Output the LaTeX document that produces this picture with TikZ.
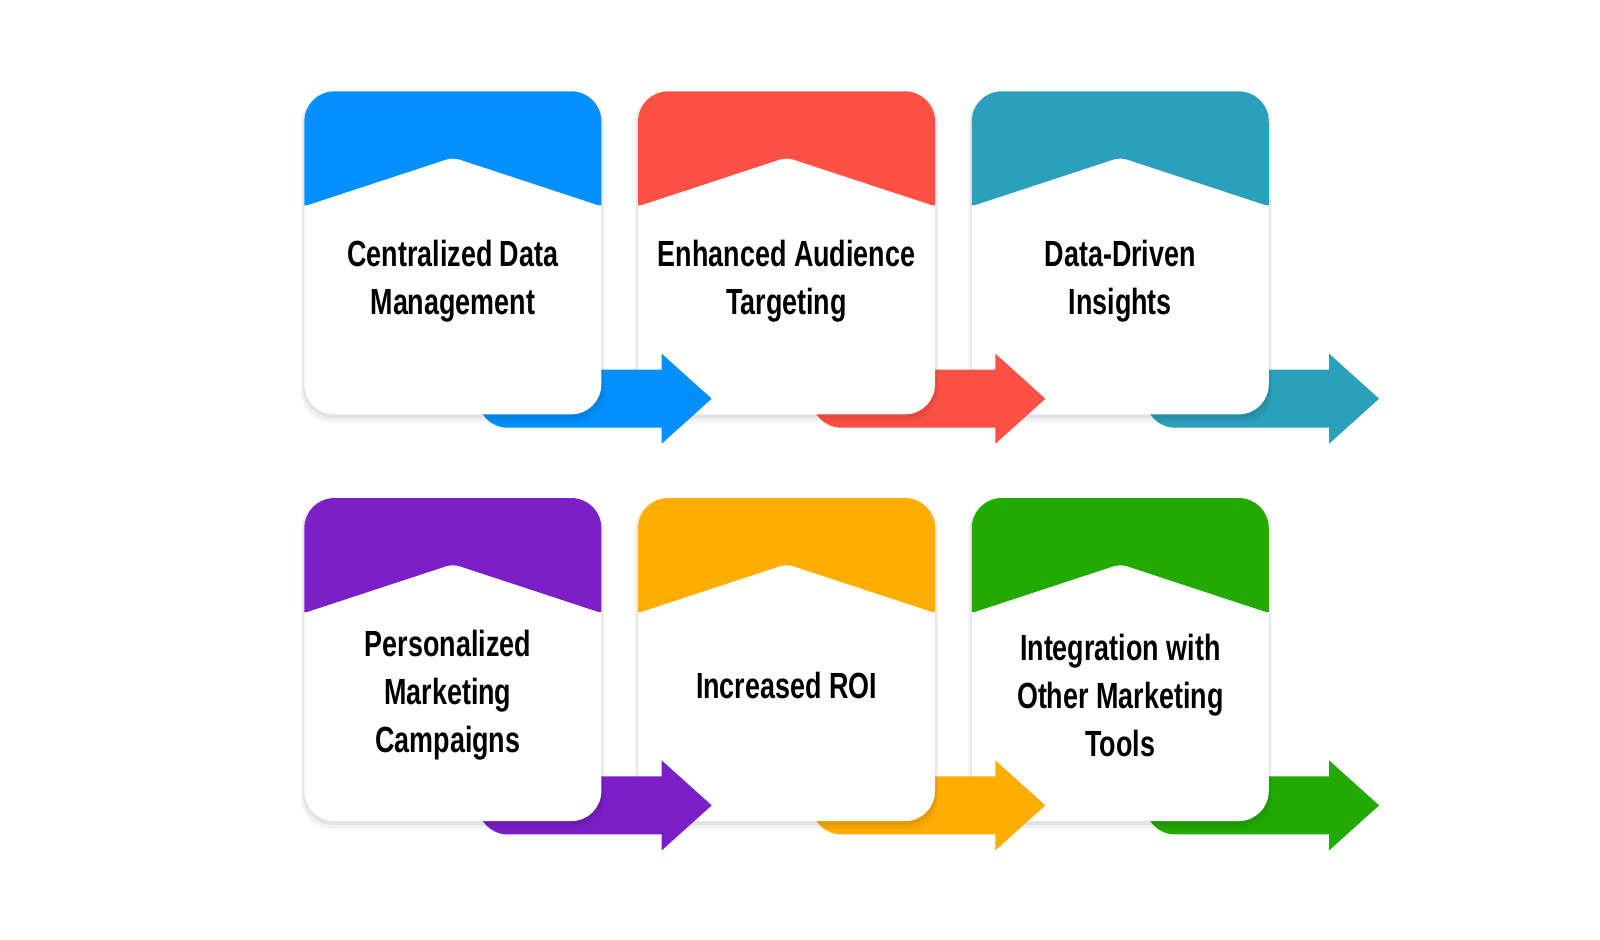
\documentclass[tikz,border=0pt]{standalone}
\usepackage{fontspec}
\usepackage{tikz}
\usetikzlibrary{positioning, shadows}
\newfontfamily\cardfont[FakeStretch=0.74]{Liberation Sans}
\definecolor{CardBlue}{RGB}{3, 144, 252}
\definecolor{CardRed}{RGB}{255, 80, 70}
\definecolor{CardTeal}{RGB}{42, 160, 188}
\definecolor{CardPurple}{RGB}{124, 31, 200}
\definecolor{CardOrange}{RGB}{255, 174, 0}
\definecolor{CardGreen}{RGB}{35, 170, 0}

\begin{document}
\begin{tikzpicture}[
    node distance=1.66cm and 0.72cm,
    slot/.style={rectangle, inner sep=0pt, minimum width=5.94cm, minimum height=6.46cm},
    card/.style={rectangle, fill=white, rounded corners=0.6cm, inner sep=0pt, minimum width=5.94cm, minimum height=6.46cm,
      drop shadow={shadow xshift=0pt, shadow yshift=-0.1cm, shadow scale=1.025, opacity=0.025, fill=black},
      drop shadow={shadow xshift=0pt, shadow yshift=-0.08cm, shadow scale=1.017, opacity=0.035, fill=black},
      drop shadow={shadow xshift=0pt, shadow yshift=-0.05cm, shadow scale=1.008, opacity=0.05, fill=black},
      path picture={\fill[#1, rounded corners=4pt]
        ([xshift=-2pt, yshift=2pt]path picture bounding box.north west)
        -- ([xshift=-2pt, yshift=-2.32cm]path picture bounding box.north west)
        -- ([yshift=-1.32cm]path picture bounding box.north)
        -- ([xshift=2pt, yshift=-2.32cm]path picture bounding box.north east)
        -- ([xshift=2pt, yshift=2pt]path picture bounding box.north east) -- cycle;}},
    cardtext/.style={font=\cardfont\bfseries\fontsize{20.7pt}{27.3pt}\selectfont, align=center, text=black}
  ]
    \path[use as bounding box, fill=white] (0,0) rectangle (32,-18.8);

    % Slots: where the six cards sit
    \node[slot, anchor=north west] (slot1) at (6.08,-1.82) {};
    \node[slot, right=of slot1] (slot2) {};
    \node[slot, right=of slot2] (slot3) {};
    \node[slot, below=of slot1] (slot4) {};
    \node[slot, right=of slot4] (slot5) {};
    \node[slot, right=of slot5] (slot6) {};

    % Row 1, right to left: each arrow lies over the next card and under its own
    \fill[CardTeal, shift={(slot3.south east)}] (-2.48,0.9) -- (1.2,0.9) -- (1.2,1.22) -- (2.2,0.32) -- (1.2,-0.58) -- (1.2,-0.26) -- (-1.88,-0.26) arc[start angle=270, end angle=180, radius=0.6] -- cycle;
    \node[card=CardTeal] (card3) at (slot3) {};
    \node[cardtext] (text3) at ([yshift=-3.8cm]card3.north) {Data-Driven\\Insights};

    \fill[CardRed, shift={(slot2.south east)}] (-2.48,0.9) -- (1.2,0.9) -- (1.2,1.22) -- (2.2,0.32) -- (1.2,-0.58) -- (1.2,-0.26) -- (-1.88,-0.26) arc[start angle=270, end angle=180, radius=0.6] -- cycle;
    \node[card=CardRed] (card2) at (slot2) {};
    \node[cardtext] (text2) at ([yshift=-3.8cm]card2.north) {Enhanced Audience\\Targeting};

    \fill[CardBlue, shift={(slot1.south east)}] (-2.48,0.9) -- (1.2,0.9) -- (1.2,1.22) -- (2.2,0.32) -- (1.2,-0.58) -- (1.2,-0.26) -- (-1.88,-0.26) arc[start angle=270, end angle=180, radius=0.6] -- cycle;
    \node[card=CardBlue] (card1) at (slot1) {};
    \node[cardtext] (text1) at ([yshift=-3.8cm]card1.north) {Centralized Data\\Management};

    % Row 2
    \fill[CardGreen, shift={(slot6.south east)}] (-2.48,0.9) -- (1.2,0.9) -- (1.2,1.22) -- (2.2,0.32) -- (1.2,-0.58) -- (1.2,-0.26) -- (-1.88,-0.26) arc[start angle=270, end angle=180, radius=0.6] -- cycle;
    \node[card=CardGreen] (card6) at (slot6) {};
    \node[cardtext] (text6) at ([yshift=-3.95cm]card6.north) {Integration with\\Other Marketing\\Tools};

    \fill[CardOrange, shift={(slot5.south east)}] (-2.48,0.9) -- (1.2,0.9) -- (1.2,1.22) -- (2.2,0.32) -- (1.2,-0.58) -- (1.2,-0.26) -- (-1.88,-0.26) arc[start angle=270, end angle=180, radius=0.6] -- cycle;
    \node[card=CardOrange] (card5) at (slot5) {};
    \node[cardtext] (text5) at ([yshift=-3.75cm]card5.north) {Increased ROI};

    \fill[CardPurple, shift={(slot4.south east)}] (-2.48,0.9) -- (1.2,0.9) -- (1.2,1.22) -- (2.2,0.32) -- (1.2,-0.58) -- (1.2,-0.26) -- (-1.88,-0.26) arc[start angle=270, end angle=180, radius=0.6] -- cycle;
    \node[card=CardPurple] (card4) at (slot4) {};
    \node[cardtext] (text4) at ([yshift=-3.95cm, xshift=-0.1cm]card4.north) {Personalized\\Marketing\\Campaigns};
  \end{tikzpicture}
\end{document}
